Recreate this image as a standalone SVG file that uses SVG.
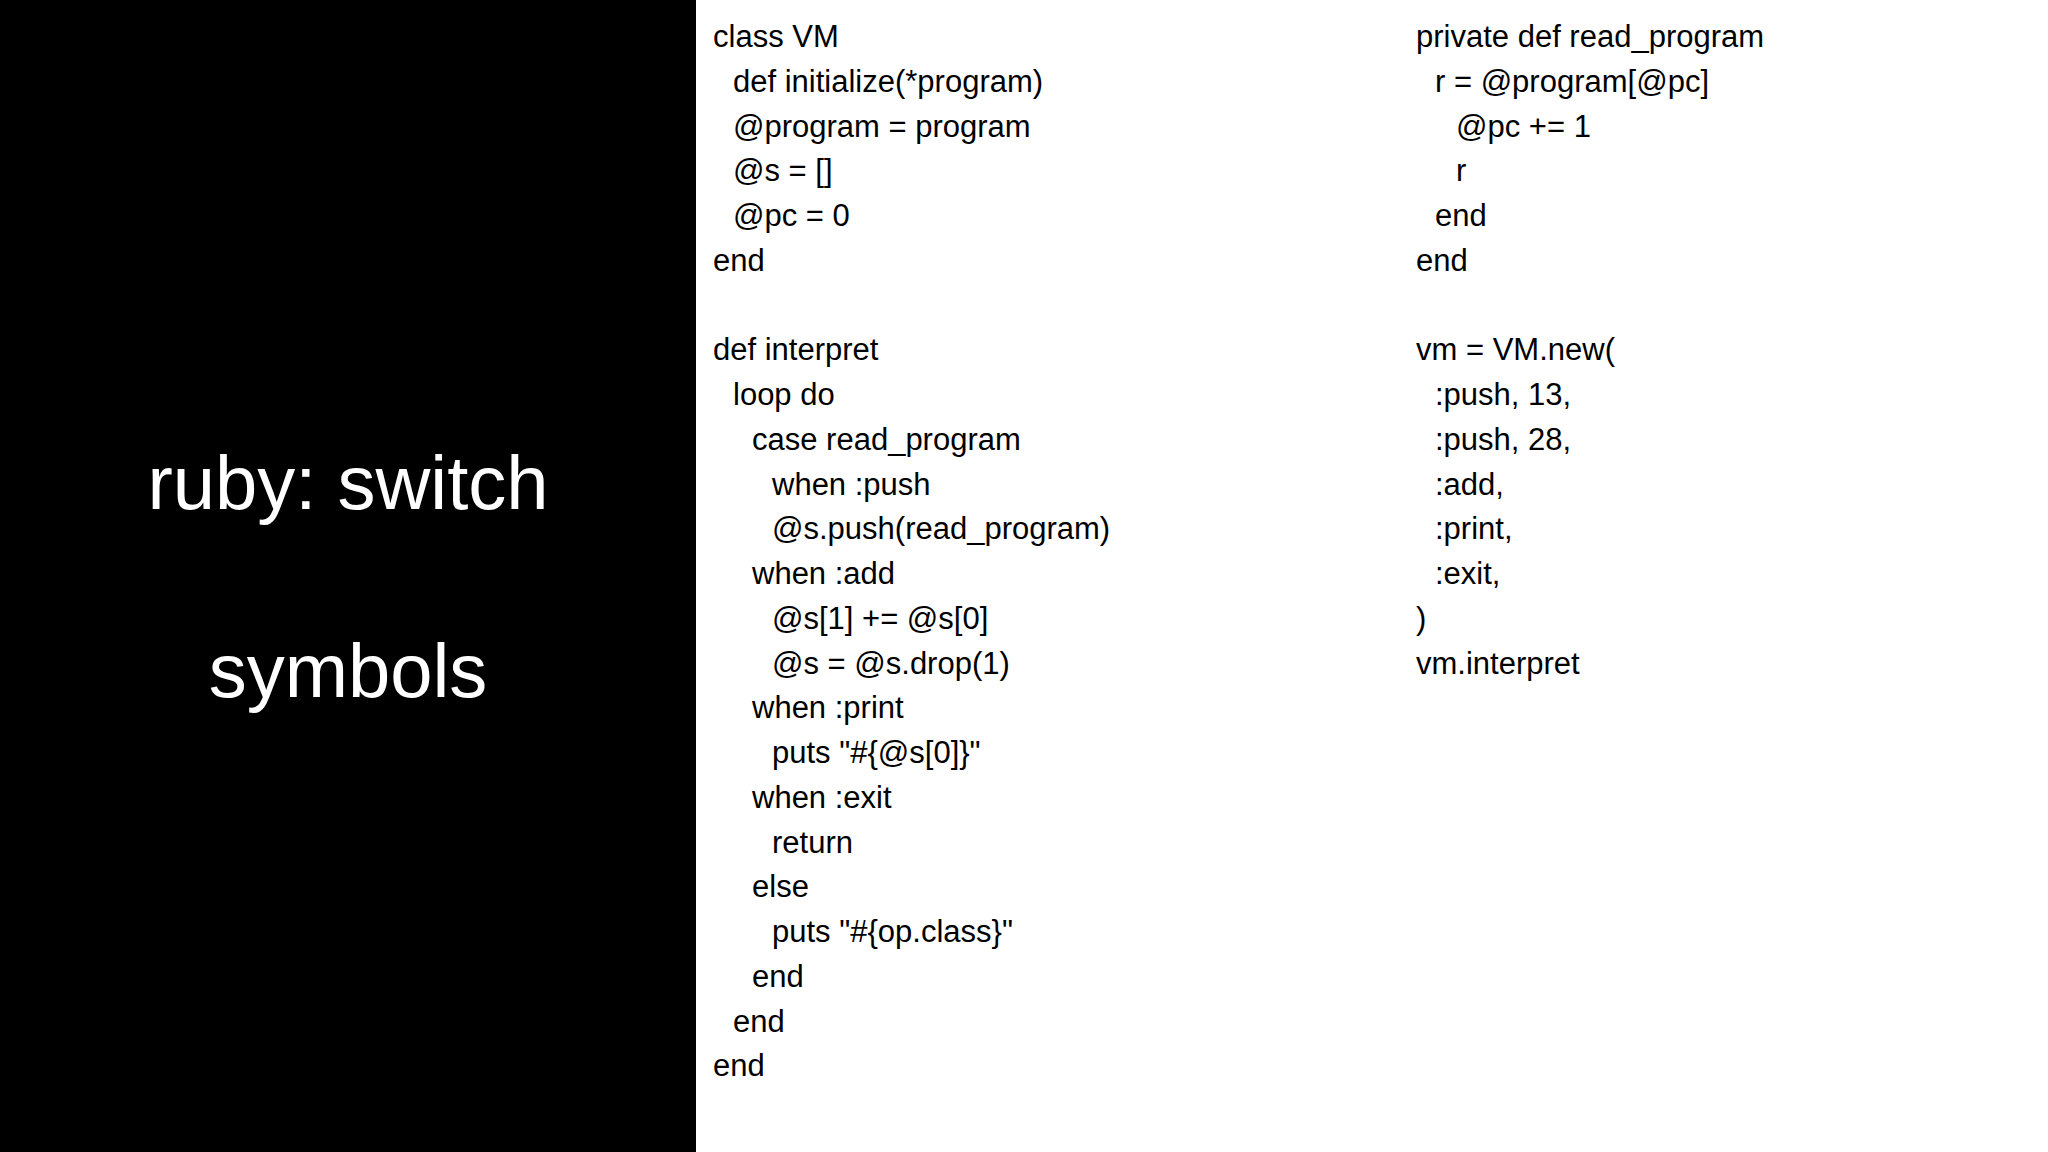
<svg xmlns="http://www.w3.org/2000/svg" width="2048" height="1152" viewBox="0 0 2048 1152">
<style>
.c{font-family:"Liberation Sans",Arial,sans-serif;font-size:31px;fill:#000}
.t{font-family:"Liberation Sans",Arial,sans-serif;font-size:76px;fill:#fff;text-anchor:middle}
</style>
<rect width="2048" height="1152" fill="#fff"/>
<g id="sidebar">
<rect x="0" y="0" width="696" height="1152" fill="#000"/>
<text class="t" x="348" y="509">ruby: switch</text>
<text class="t" x="348" y="697">symbols</text>
</g>
<g id="code-left" class="c">
<text class="c" x="713" y="47">class VM</text>
<text class="c" x="733" y="92">def initialize(*program)</text>
<text class="c" x="733" y="137">@program = program</text>
<text class="c" x="733" y="181">@s = []</text>
<text class="c" x="733" y="226">@pc = 0</text>
<text class="c" x="713" y="271">end</text>
<text class="c" x="713" y="360">def interpret</text>
<text class="c" x="733" y="405">loop do</text>
<text class="c" x="752" y="450">case read_program</text>
<text class="c" x="772" y="495">when :push</text>
<text class="c" x="772" y="539">@s.push(read_program)</text>
<text class="c" x="752" y="584">when :add</text>
<text class="c" x="772" y="629">@s[1] += @s[0]</text>
<text class="c" x="772" y="674">@s = @s.drop(1)</text>
<text class="c" x="752" y="718">when :print</text>
<text class="c" x="772" y="763">puts "#{@s[0]}"</text>
<text class="c" x="752" y="808">when :exit</text>
<text class="c" x="772" y="853">return</text>
<text class="c" x="752" y="897">else</text>
<text class="c" x="772" y="942">puts "#{op.class}"</text>
<text class="c" x="752" y="987">end</text>
<text class="c" x="733" y="1032">end</text>
<text class="c" x="713" y="1076">end</text>
</g>
<g id="code-right" class="c">
<text class="c" x="1416" y="47">private def read_program</text>
<text class="c" x="1435" y="92">r = @program[@pc]</text>
<text class="c" x="1456" y="137">@pc += 1</text>
<text class="c" x="1456" y="181">r</text>
<text class="c" x="1435" y="226">end</text>
<text class="c" x="1416" y="271">end</text>
<text class="c" x="1416" y="360">vm = VM.new(</text>
<text class="c" x="1435" y="405">:push, 13,</text>
<text class="c" x="1435" y="450">:push, 28,</text>
<text class="c" x="1435" y="495">:add,</text>
<text class="c" x="1435" y="539">:print,</text>
<text class="c" x="1435" y="584">:exit,</text>
<text class="c" x="1416" y="629">)</text>
<text class="c" x="1416" y="674">vm.interpret</text>
</g>
</svg>
